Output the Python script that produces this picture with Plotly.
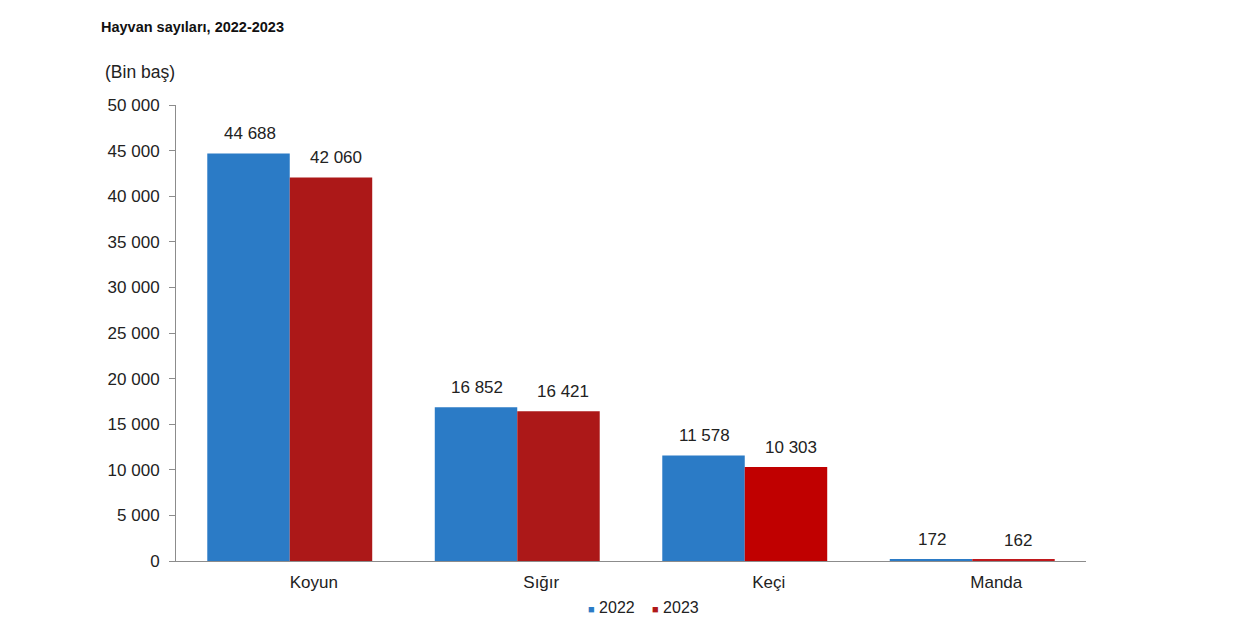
import plotly.graph_objects as go

categories = ["Koyun", "Sığır", "Keçi", "Manda"]
values_2022 = [44688, 16852, 11578, 172]
values_2023 = [42060, 16421, 10303, 162]
series_names = ["2022", "2023"]

BLUE = "#2B7BC6"
REDS = ["#AC1818", "#AC1818", "#C00000", "#C0181C"]
FONT = "Liberation Sans, Arial, sans-serif"


def fmt(v):
    return f"{v:,}".replace(",", " ")


fig = go.Figure()
fig.add_trace(go.Bar(
    x=categories, y=values_2022, name=series_names[0],
    marker=dict(color=BLUE, line=dict(width=0)),
))
fig.add_trace(go.Bar(
    x=categories, y=values_2023, name=series_names[1],
    marker=dict(color=REDS, line=dict(width=0)),
))

# value labels above each bar
annotations = []
for vals, shift in [(values_2022, -40), (values_2023, 46)]:
    for cat, v in zip(categories, vals):
        annotations.append(dict(
            x=cat, y=v, xref="x", yref="y", text=fmt(v),
            xshift=shift, yshift=8, yanchor="bottom", showarrow=False,
            font=dict(size=17, color="#222222"),
        ))

# title and unit
annotations += [
    dict(text="<b>Hayvan sayıları, 2022-2023</b>", xref="paper", yref="paper",
         x=-0.0848, y=1.171, xanchor="left", yanchor="middle", showarrow=False,
         font=dict(size=14.5, color="#111111")),
    dict(text="(Bin baş)", xref="paper", yref="paper",
         x=-0.0802, y=1.072, xanchor="left", yanchor="middle", showarrow=False,
         font=dict(size=17.5, color="#222222")),
]

# legend with small squares
for name, col, xpos in [(series_names[0], BLUE, 0.4508), (series_names[1], "#B01818", 0.5212)]:
    annotations.append(dict(
        text=f"<span style='color:{col};font-size:11px'>■</span> {name}",
        xref="paper", yref="paper", x=xpos, y=-0.103,
        xanchor="left", yanchor="middle", showarrow=False,
        font=dict(size=16, color="#222222"),
    ))

fig.update_layout(
    width=1242, height=644,
    margin=dict(l=168, r=164, t=97, b=91),
    paper_bgcolor="white", plot_bgcolor="white",
    barmode="group", bargap=0.275, bargroupgap=0,
    separators=", ",
    font=dict(family=FONT, size=17, color="#222222"),
    showlegend=False,
    annotations=annotations,
)
fig.update_yaxes(
    range=[0, 50000], dtick=5000, tickformat=",d",
    showgrid=False, zeroline=False,
    showline=True, linecolor="#8c8c8c", linewidth=1,
    ticks="outside", ticklen=6, tickcolor="#8c8c8c",
    ticklabelstandoff=6,
    tickfont=dict(size=17, color="#222222"),
)
fig.update_xaxes(
    showgrid=False, showline=True, linecolor="#8c8c8c", linewidth=1,
    ticks="", ticklabelstandoff=6, ticklabelshift=24,
    tickfont=dict(size=17, color="#222222"),
)

fig.write_html("out.html")
